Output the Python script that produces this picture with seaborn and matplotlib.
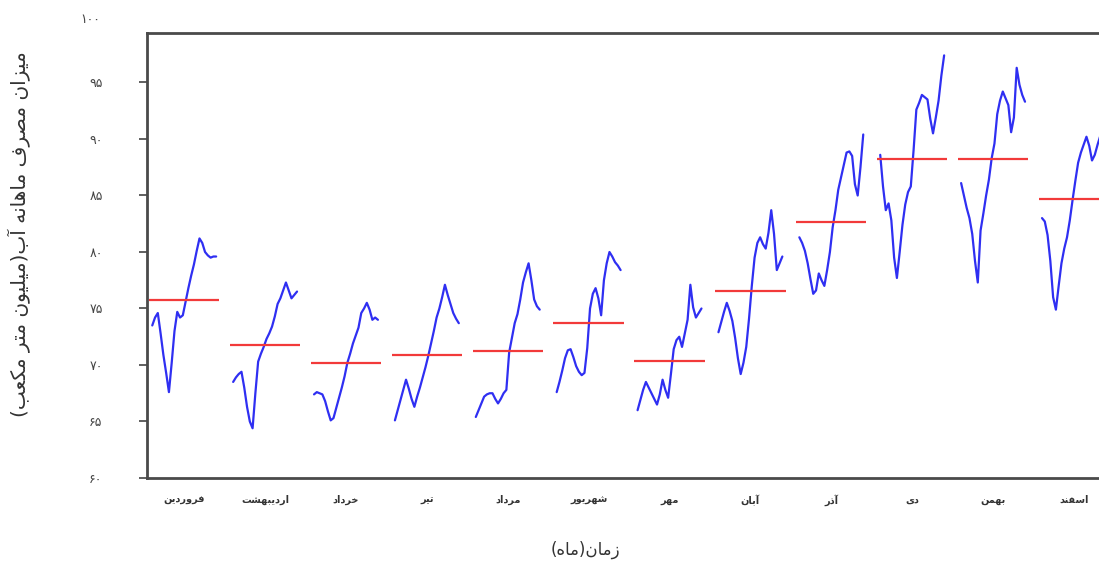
import numpy as np
import pandas as pd
import seaborn as sns
from matplotlib import pyplot as plt

# month names (Persian calendar) and the yearly values of each month
MONTHS = ['فروردین', 'اردیبهشت', 'خرداد', 'تیر', 'مرداد', 'شهریور',
          'مهر', 'آبان', 'آذر', 'دی', 'بهمن', 'اسفند']

FARVARDIN = [73.5, 74.2, 74.6, 72.8, 70.9, 69.3, 67.6, 70.2, 73.0, 74.7, 74.2, 74.4,
             75.6, 76.8, 77.9, 78.9, 80.1, 81.2, 80.8, 80.0, 79.7, 79.5, 79.6, 79.6]
ORDIBEHESHT = [68.5, 68.9, 69.2, 69.4, 68.0, 66.3, 65.0, 64.4, 67.5, 70.3, 71.0, 71.6,
               72.3, 72.8, 73.4, 74.3, 75.4, 75.9, 76.6, 77.3, 76.6, 75.9, 76.2, 76.5]
KHORDAD = [67.4, 67.6, 67.5, 67.4, 66.8, 65.9, 65.1, 65.3, 66.2, 67.1, 68.0, 69.0,
           70.2, 71.0, 71.9, 72.6, 73.3, 74.6, 75.0, 75.5, 74.9, 74.0, 74.2, 74.0]
TIR = [65.1, 66.0, 66.9, 67.8, 68.7, 67.9, 67.0, 66.3, 67.2, 68.0, 68.9, 69.8,
       70.8, 71.9, 73.0, 74.2, 75.0, 76.0, 77.1, 76.2, 75.4, 74.6, 74.1, 73.7]
MORDAD = [65.4, 66.0, 66.6, 67.2, 67.4, 67.5, 67.5, 67.0, 66.6, 67.0, 67.5, 67.8,
          71.1, 72.4, 73.7, 74.5, 75.8, 77.3, 78.2, 79.0, 77.5, 75.8, 75.2, 74.9]
SHAHRIVAR = [67.6, 68.5, 69.5, 70.6, 71.3, 71.4, 70.7, 69.9, 69.4, 69.1, 69.3, 71.5,
             75.0, 76.3, 76.8, 75.9, 74.4, 77.5, 79.0, 80.0, 79.6, 79.1, 78.8, 78.4]
MEHR = [66.0, 66.9, 67.8, 68.5, 68.0, 67.5, 67.0, 66.5, 67.4, 68.7, 67.8, 67.1,
        69.2, 71.4, 72.2, 72.5, 71.6, 72.8, 74.0, 77.1, 75.1, 74.2, 74.6, 75.0]
ABAN = [72.9, 73.8, 74.7, 75.5, 74.8, 73.9, 72.4, 70.6, 69.2, 70.2, 71.6, 74.1,
        77.0, 79.5, 80.8, 81.3, 80.7, 80.3, 81.7, 83.7, 81.6, 78.4, 79.0, 79.6]
AZAR = [81.3, 80.8, 80.1, 79.0, 77.6, 76.3, 76.6, 78.1, 77.5, 77.0, 78.4, 80.0,
        82.2, 83.7, 85.5, 86.6, 87.7, 88.8, 88.9, 88.5, 86.0, 85.0, 87.5, 90.4]
DEY = [88.6, 85.8, 83.7, 84.3, 82.8, 79.5, 77.7, 80.0, 82.4, 84.2, 85.3, 85.8,
       89.0, 92.6, 93.2, 93.9, 93.7, 93.5, 91.8, 90.5, 91.9, 93.4, 95.6, 97.4]
BAHMAN = [86.1, 85.0, 83.9, 83.0, 81.6, 79.2, 77.3, 81.9, 83.4, 85.0, 86.4, 88.3,
          89.6, 92.2, 93.4, 94.2, 93.6, 93.0, 90.6, 91.9, 96.3, 94.8, 93.9, 93.3]
ESFAND = [83.0, 82.7, 81.5, 79.2, 76.0, 74.9, 77.0, 79.0, 80.3, 81.3, 82.8, 84.6,
          86.3, 87.9, 88.8, 89.5, 90.2, 89.4, 88.1, 88.6, 89.5, 90.3, 90.8, 91.2]

Y_TICKS = [60, 65, 70, 75, 80, 85, 90, 95]
Y_TOP_LABEL = 100

Y_LABEL = 'میزان مصرف ماهانه آب(میلیون متر مکعب)'
X_LABEL = 'زمان(ماه)'

BLUE = '#2f2ff2'
RED = '#f23a3a'

# arabic presentation forms: isolated, final, initial, medial
FORMS = {
    'ا': ('\uFE8D', '\uFE8E'),
    'آ': ('\uFE81', '\uFE82'),
    'ب': ('\uFE8F', '\uFE90', '\uFE91', '\uFE92'),
    'ت': ('\uFE95', '\uFE96', '\uFE97', '\uFE98'),
    'خ': ('\uFEA5', '\uFEA6', '\uFEA7', '\uFEA8'),
    'د': ('\uFEA9', '\uFEAA'),
    'ذ': ('\uFEAB', '\uFEAC'),
    'ر': ('\uFEAD', '\uFEAE'),
    'ز': ('\uFEAF', '\uFEB0'),
    'س': ('\uFEB1', '\uFEB2', '\uFEB3', '\uFEB4'),
    'ش': ('\uFEB5', '\uFEB6', '\uFEB7', '\uFEB8'),
    'ص': ('\uFEB9', '\uFEBA', '\uFEBB', '\uFEBC'),
    'ع': ('\uFEC9', '\uFECA', '\uFECB', '\uFECC'),
    'ف': ('\uFED1', '\uFED2', '\uFED3', '\uFED4'),
    'ک': ('\uFB8E', '\uFB8F', '\uFB90', '\uFB91'),
    'ل': ('\uFEDD', '\uFEDE', '\uFEDF', '\uFEE0'),
    'م': ('\uFEE1', '\uFEE2', '\uFEE3', '\uFEE4'),
    'ن': ('\uFEE5', '\uFEE6', '\uFEE7', '\uFEE8'),
    'و': ('\uFEED', '\uFEEE'),
    'ه': ('\uFEE9', '\uFEEA', '\uFEEB', '\uFEEC'),
    'ی': ('\uFBFC', '\uFBFD', '\uFBFE', '\uFBFF'),
}

FA_DIGITS = str.maketrans('0123456789', '۰۱۲۳۴۵۶۷۸۹')


def shape_fa(text):
    # join letters and put them in visual (left to right) order
    out = []
    for i, ch in enumerate(text):
        f = FORMS.get(ch)
        if f is None:
            out.append(ch)
            continue
        prev = text[i - 1] if i > 0 else ''
        nxt = text[i + 1] if i < len(text) - 1 else ''
        join_prev = prev in FORMS and len(FORMS[prev]) == 4
        join_next = len(f) == 4 and nxt in FORMS
        if join_prev and join_next:
            out.append(f[3])
        elif join_prev:
            out.append(f[1])
        elif join_next:
            out.append(f[2])
        else:
            out.append(f[0])
    vis = ''.join(reversed(out))
    return vis.translate(str.maketrans('()', ')('))


series = [FARVARDIN, ORDIBEHESHT, KHORDAD, TIR, MORDAD, SHAHRIVAR,
          MEHR, ABAN, AZAR, DEY, BAHMAN, ESFAND]

rows = []
for m, values in enumerate(series):
    offsets = np.linspace(-0.395, 0.395, len(values))
    for off, v in zip(offsets, values):
        rows.append({'month': m, 'x': m + off, 'value': v})
df = pd.DataFrame(rows)
means = df.groupby('month')['value'].mean()

sns.set_theme(style='white')
plt.rcParams['font.family'] = ['DejaVu Sans']

fig = plt.figure(figsize=(10.99, 5.69), dpi=100)
# right edge of the axes runs past the picture, as in the cropped original
ax = fig.add_axes([147 / 1099, 91 / 569, 967.4 / 1099, 445 / 569])

sns.lineplot(data=df, x='x', y='value', units='month', estimator=None,
             color=BLUE, linewidth=1.6, ax=ax, legend=False)
ax.hlines(means.values, means.index - 0.435, means.index + 0.435,
          color=RED, linewidth=1.6, zorder=3)

ax.set_xlim(-0.46, 11.5)
ax.set_ylim(60, 99.38)

ax.set_xticks(range(len(MONTHS)))
ax.set_xticklabels([shape_fa(m) for m in MONTHS], fontsize=7, fontweight='bold',
                   color='#333333')
ax.set_yticks(Y_TICKS)
ax.set_yticklabels([str(t).translate(FA_DIGITS) for t in Y_TICKS], fontsize=9,
                   color='#444444')
ax.tick_params(axis='x', length=0, pad=12)
ax.tick_params(axis='y', length=6, width=1.2, color='#444444', pad=26, direction='out',
               left=True)
ax.text(-0.048, Y_TOP_LABEL + 0.6, str(Y_TOP_LABEL).translate(FA_DIGITS),
        transform=ax.get_yaxis_transform(), ha='right', va='center',
        fontsize=9, color='#444444', clip_on=False)

for side in ['left', 'bottom', 'top', 'right']:
    ax.spines[side].set_color('#4a4a4a')
    ax.spines[side].set_linewidth(2)

ax.set_xlabel(shape_fa(X_LABEL), fontsize=12, color='#333333')
ax.xaxis.set_label_coords(0.453, -0.14)
ax.set_ylabel(shape_fa(Y_LABEL), fontsize=14.5, color='#333333')
ax.yaxis.set_label_coords(-0.12, 0.548)

fig.savefig('out.png', dpi=100)
